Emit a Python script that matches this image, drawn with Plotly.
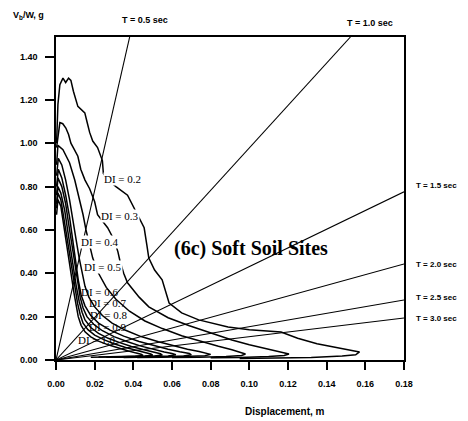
import plotly.graph_objects as go

# ---- data ----
di_labels = ["DI = 0.2", "DI = 0.3", "DI = 0.4", "DI = 0.5", "DI = 0.6",
             "DI = 0.7", "DI = 0.8", "DI = 0.9", "DI = 1.0"]

di02_d = [0.0003, 0.001, 0.002, 0.0036, 0.005, 0.0065, 0.0077, 0.009, 0.0113, 0.013, 0.0149, 0.016, 0.0174, 0.019,
          0.0215, 0.024, 0.0245, 0.027, 0.031, 0.037, 0.0405, 0.0435, 0.0456, 0.047, 0.048, 0.051, 0.0549, 0.0585,
          0.065, 0.0738, 0.089, 0.100, 0.1164, 0.125, 0.135, 0.145, 0.152, 0.157, 0.155, 0.148, 0.132, 0.115, 0.095]
di02_v = [1.00, 1.18, 1.27, 1.30, 1.28, 1.30, 1.29, 1.24, 1.17, 1.155, 1.14, 1.10, 1.05, 1.01,
          0.98, 0.92, 0.86, 0.83, 0.80, 0.76, 0.70, 0.65, 0.61, 0.53, 0.47, 0.415, 0.37, 0.263,
          0.217, 0.185, 0.152, 0.140, 0.129, 0.10, 0.075, 0.058, 0.046, 0.037, 0.024, 0.018, 0.012, 0.009, 0.007]

di03_d = [0.0003, 0.002, 0.0035, 0.0051, 0.0065, 0.0077, 0.0095, 0.0113, 0.0128, 0.015, 0.0174, 0.020, 0.0215,
          0.024, 0.0267, 0.030, 0.032, 0.033, 0.035, 0.037, 0.043, 0.048, 0.058, 0.069, 0.080, 0.091, 0.100,
          0.108, 0.114, 0.118, 0.1205, 0.118, 0.110, 0.095, 0.080]
di03_v = [0.98, 1.095, 1.09, 1.07, 1.04, 1.00, 0.97, 0.94, 0.88, 0.83, 0.79, 0.73, 0.67,
          0.64, 0.61, 0.555, 0.50, 0.46, 0.40, 0.356, 0.29, 0.245, 0.195, 0.158, 0.124, 0.092, 0.070,
          0.053, 0.041, 0.033, 0.028, 0.021, 0.016, 0.012, 0.010]

di04_d = [0.0003, 0.001, 0.0036, 0.007, 0.0097, 0.012, 0.014, 0.0155, 0.017, 0.019, 0.022, 0.026, 0.031, 0.038,
          0.046, 0.055, 0.065, 0.075, 0.084, 0.091, 0.096, 0.098, 0.096, 0.088, 0.074, 0.060]
di04_v = [0.90, 0.99, 0.97, 0.91, 0.83, 0.75, 0.67, 0.60, 0.54, 0.47, 0.40, 0.335, 0.28, 0.225,
          0.18, 0.145, 0.112, 0.085, 0.063, 0.047, 0.035, 0.028, 0.021, 0.016, 0.013, 0.011]

di05_d = [0.0003, 0.0012, 0.003, 0.005, 0.007, 0.009, 0.0105, 0.012, 0.0135, 0.015, 0.017, 0.020, 0.024, 0.029,
          0.036, 0.044, 0.053, 0.061, 0.068, 0.074, 0.078, 0.080, 0.077, 0.068, 0.055, 0.042]
di05_v = [0.85, 0.93, 0.90, 0.83, 0.74, 0.64, 0.55, 0.47, 0.40, 0.34, 0.29, 0.245, 0.205, 0.17,
          0.137, 0.108, 0.084, 0.065, 0.050, 0.039, 0.031, 0.026, 0.020, 0.016, 0.013, 0.012]

di06_d = [0.0003, 0.0012, 0.003, 0.005, 0.007, 0.0085, 0.010, 0.0115, 0.013, 0.015, 0.018, 0.022, 0.028, 0.035,
          0.043, 0.051, 0.058, 0.064, 0.069, 0.070, 0.066, 0.057, 0.045, 0.035]
di06_v = [0.80, 0.88, 0.84, 0.76, 0.66, 0.56, 0.46, 0.37, 0.30, 0.25, 0.205, 0.17, 0.138, 0.11,
          0.085, 0.065, 0.050, 0.038, 0.030, 0.024, 0.019, 0.015, 0.013, 0.012]

di07_d = [0.0003, 0.001, 0.003, 0.005, 0.0065, 0.008, 0.0095, 0.011, 0.0125, 0.014, 0.016, 0.0195, 0.024, 0.030,
          0.037, 0.044, 0.050, 0.056, 0.060, 0.062, 0.058, 0.050, 0.040, 0.030]
di07_v = [0.76, 0.84, 0.80, 0.72, 0.63, 0.54, 0.45, 0.36, 0.29, 0.24, 0.20, 0.165, 0.135, 0.108,
          0.084, 0.064, 0.049, 0.037, 0.030, 0.024, 0.019, 0.016, 0.014, 0.013]

di08_d = [0.0003, 0.001, 0.0025, 0.0045, 0.006, 0.0075, 0.009, 0.0105, 0.012, 0.0135, 0.015, 0.018, 0.022, 0.027,
          0.033, 0.039, 0.045, 0.050, 0.054, 0.055, 0.051, 0.043, 0.034, 0.026]
di08_v = [0.72, 0.80, 0.77, 0.69, 0.60, 0.51, 0.42, 0.34, 0.27, 0.22, 0.185, 0.15, 0.123, 0.10,
          0.080, 0.062, 0.048, 0.037, 0.029, 0.023, 0.018, 0.015, 0.014, 0.013]

di09_d = [0.0003, 0.001, 0.0025, 0.004, 0.0055, 0.007, 0.0085, 0.010, 0.0112, 0.0125, 0.014, 0.0165, 0.020, 0.025,
          0.030, 0.036, 0.041, 0.046, 0.049, 0.050, 0.046, 0.038, 0.030, 0.022]
di09_v = [0.70, 0.77, 0.74, 0.66, 0.57, 0.48, 0.40, 0.32, 0.26, 0.21, 0.17, 0.14, 0.115, 0.093,
          0.075, 0.058, 0.045, 0.035, 0.028, 0.022, 0.018, 0.016, 0.015, 0.014]

di10_d = [0.0003, 0.001, 0.0025, 0.0038, 0.005, 0.0065, 0.008, 0.0093, 0.0105, 0.0115, 0.013, 0.015, 0.018, 0.022,
          0.027, 0.032, 0.037, 0.041, 0.044, 0.045, 0.041, 0.034, 0.026, 0.018]
di10_v = [0.67, 0.74, 0.71, 0.63, 0.55, 0.46, 0.38, 0.31, 0.25, 0.20, 0.16, 0.13, 0.107, 0.087,
          0.070, 0.055, 0.043, 0.033, 0.027, 0.021, 0.017, 0.015, 0.014, 0.013]

di_disp = [di02_d, di03_d, di04_d, di05_d, di06_d, di07_d, di08_d, di09_d, di10_d]
di_vals = [di02_v, di03_v, di04_v, di05_v, di06_v, di07_v, di08_v, di09_v, di10_v]

# label anchor points (displacement, V/W) for each DI curve label
di_label_d = [0.0241, 0.0226, 0.0123, 0.0138, 0.0123, 0.0164, 0.0169, 0.0164, 0.0108]
di_label_v = [0.836, 0.662, 0.546, 0.430, 0.314, 0.263, 0.208, 0.152, 0.092]

# constant-period lines: from origin to end point
t_labels = ["T = 0.5 sec", "T = 1.0 sec", "T = 1.5 sec", "T = 2.0 sec", "T = 2.5 sec", "T = 3.0 sec"]
t_end_d = [0.0381, 0.1523, 0.18, 0.18, 0.18, 0.18]
t_end_v = [1.49, 1.49, 0.776, 0.443, 0.277, 0.194]

x_ticks = [0.00, 0.02, 0.04, 0.06, 0.08, 0.10, 0.12, 0.14, 0.16, 0.18]
y_ticks = [0.00, 0.20, 0.40, 0.60, 0.80, 1.00, 1.20, 1.40]

fig = go.Figure()

for d_end, v_end in zip(t_end_d, t_end_v):
    fig.add_trace(go.Scatter(x=[0, d_end], y=[0, v_end], mode="lines",
                             line=dict(color="black", width=1.1), showlegend=False, hoverinfo="skip"))

for dd, vv in zip(di_disp, di_vals):
    fig.add_trace(go.Scatter(x=dd, y=vv, mode="lines",
                             line=dict(color="black", width=1.5), showlegend=False))

# page geometry (the page body has an 8px offset)
OFF = 8
W, H = 468, 421
L, R, T, B = 53, 64, 37, 61          # plot-area edges in page pixels
pw, ph = W - L - R, H - T - B


def px(xp):
    return (xp - L) / pw


def py(yp):
    return (H - B - yp) / ph


ann = []
small = dict(family="Liberation Sans", size=9, color="black", weight="bold")
side = dict(family="Liberation Sans", size=8, color="black", weight="bold")
for i, lab in enumerate(di_labels):
    a = dict(x=di_label_d[i], y=di_label_v[i], xref="x", yref="y", text=lab, showarrow=False,
             xanchor="left", yanchor="middle",
             font=dict(family="Liberation Serif", size=11, color="black"), borderpad=0)
    if i < 4:
        a["bgcolor"] = "white"
    ann.append(a)

# T labels
ann.append(dict(x=px(143), y=py(20), xref="paper", yref="paper", text="T = 0.5 sec", showarrow=False,
                xanchor="center", yanchor="middle", font=small))
ann.append(dict(x=px(370), y=py(23), xref="paper", yref="paper", text="T = 1.0 sec", showarrow=False,
                xanchor="center", yanchor="middle", font=small))
for lab, ypix in zip(t_labels[2:], [185, 264, 297, 318]):
    ann.append(dict(x=px(414), y=py(ypix), xref="paper", yref="paper", text=lab, showarrow=False,
                    xanchor="left", yanchor="middle", font=side))

ann.append(dict(x=px(8), y=py(16), xref="paper", yref="paper", text="V<sub>b</sub>/W, g", showarrow=False,
                xanchor="left", yanchor="middle",
                font=dict(family="Liberation Sans", size=9, color="black", weight="bold")))
ann.append(dict(x=px(284), y=py(411), xref="paper", yref="paper", text="Displacement, m", showarrow=False,
                xanchor="center", yanchor="middle",
                font=dict(family="Liberation Sans", size=10, color="black", weight="bold")))
ann.append(dict(x=px(250), y=py(248), xref="paper", yref="paper", text="<b>(6c) Soft Soil Sites</b>",
                showarrow=False, xanchor="center", yanchor="middle",
                font=dict(family="Liberation Serif", size=20, color="black")))

tick_font = dict(family="Liberation Sans", size=9, color="black", weight="bold")
fig.update_layout(
    width=W - OFF, height=H - OFF,
    margin=dict(l=L - OFF, r=R, t=T - OFF, b=B, pad=0),
    paper_bgcolor="white", plot_bgcolor="white",
    annotations=ann,
    xaxis=dict(range=[0, 0.18], tickvals=x_ticks, ticktext=[f"{v:.2f}" for v in x_ticks],
               showgrid=False, zeroline=False, showline=True, linecolor="black", linewidth=1.5, mirror=True,
               ticks="outside", ticklen=8, tickwidth=1.5, tickcolor="black",
               tickfont=tick_font, ticklabelstandoff=6),
    yaxis=dict(range=[0, 1.49], tickvals=y_ticks, ticktext=[f"{v:.2f}" for v in y_ticks],
               showgrid=False, zeroline=False, showline=True, linecolor="black", linewidth=1.5, mirror=True,
               ticks="outside", ticklen=9, tickwidth=1.5, tickcolor="black",
               tickfont=tick_font, ticklabelstandoff=6),
)

fig.write_html("out.html")
